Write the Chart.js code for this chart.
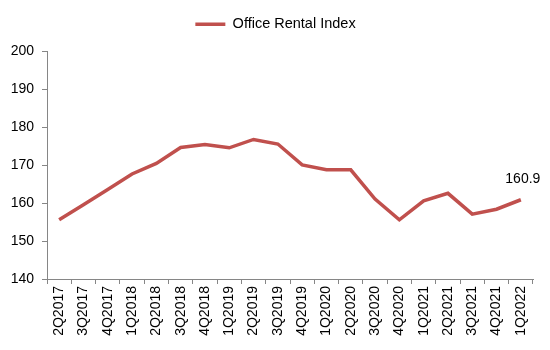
<!DOCTYPE html>
<html>
<head>
<meta charset="utf-8">
<script src="https://cdn.jsdelivr.net/npm/chart.js@4"></script>
<style>
  html, body { margin: 0; padding: 0; background: #fff; }
  #wrap { width: 550px; height: 350px; }
</style>
</head>
<body>
<div id="wrap"><canvas id="rentChart"></canvas></div>
<script>
const quarters = ["2Q2017", "3Q2017", "4Q2017", "1Q2018", "2Q2018", "3Q2018", "4Q2018",
  "1Q2019", "2Q2019", "3Q2019", "4Q2019", "1Q2020", "2Q2020", "3Q2020", "4Q2020",
  "1Q2021", "2Q2021", "3Q2021", "4Q2021", "1Q2022"];
const rentalIndex = [155.6, 159.6, 163.6, 167.7, 170.5, 174.7, 175.5, 174.6, 176.8, 175.6,
  170.1, 168.8, 168.8, 161.1, 155.6, 160.6, 162.6, 157.1, 158.4, 160.9];
const yTicks = [140, 150, 160, 170, 180, 190, 200];

const lineColor = "#C0504D";
const axisColor = "#868686";
const font = { family: "Liberation Sans, Arial, sans-serif", size: 14 };

// label on the last point only
const lastLabel = {
  id: "lastLabel",
  afterDatasetsDraw(chart) {
    const meta = chart.getDatasetMeta(0);
    const pt = meta.data[meta.data.length - 1];
    const ctx = chart.ctx;
    ctx.save();
    ctx.font = "14px " + font.family;
    ctx.fillStyle = "#000";
    ctx.textAlign = "center";
    ctx.textBaseline = "middle";
    ctx.fillText(rentalIndex[rentalIndex.length - 1].toFixed(1), pt.x + 2, pt.y - 21);
    ctx.restore();
  }
};

// extra gap under the legend, and centre it on the whole page
const legendGap = {
  id: "legendGap",
  beforeInit(chart) {
    const fit = chart.legend.fit;
    chart.legend.fit = function () {
      fit.bind(chart.legend)();
      this.height += 10;
    };
  },
  afterLayout(chart) {
    chart.legend.left += 9;
    chart.legend.right += 9;
  }
};

new Chart(document.getElementById("rentChart"), {
  type: "line",
  data: {
    labels: quarters,
    datasets: [{
      label: "Office Rental Index",
      data: rentalIndex,
      borderColor: lineColor,
      backgroundColor: lineColor,
      borderWidth: 3.5,
      pointRadius: 0,
      tension: 0
    }]
  },
  options: {
    responsive: true,
    maintainAspectRatio: false,
    animation: false,
    layout: { padding: { left: 0, right: 17, top: 5, bottom: 0 } },
    plugins: {
      legend: {
        labels: {
          font: { family: font.family, size: 14.5 },
          color: "#000",
          usePointStyle: true,
          pointStyle: "line",
          pointStyleWidth: 30,
          padding: 12
        }
      },
      tooltip: { enabled: false }
    },
    scales: {
      x: {
        offset: true,
        afterFit(scale) { scale.height = 71; },
        grid: { display: true, drawOnChartArea: false, offset: true, tickLength: 5, color: axisColor },
        border: { display: true, color: axisColor, width: 1 },
        ticks: { font: font, color: "#000", minRotation: 90, maxRotation: 90, autoSkip: false, padding: 2 }
      },
      y: {
        min: 140,
        max: 200,
        afterBuildTicks(scale) { scale.ticks = yTicks.map(v => ({ value: v })); },
        afterFit(scale) { scale.width = 47; },
        grid: { display: true, drawOnChartArea: false, tickLength: 5, color: axisColor },
        border: { display: true, color: axisColor, width: 1 },
        ticks: { font: font, color: "#000", padding: 8 }
      }
    }
  },
  plugins: [lastLabel, legendGap]
});
</script>
</body>
</html>
